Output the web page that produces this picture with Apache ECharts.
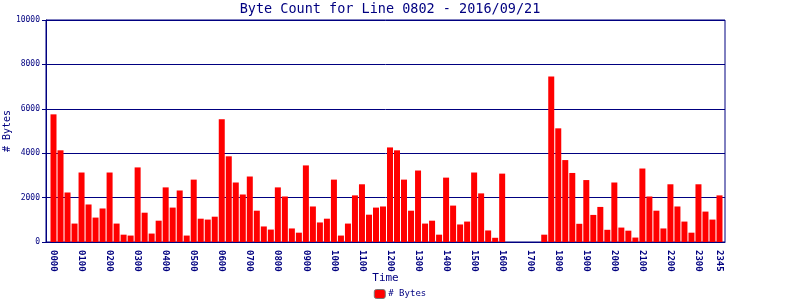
<!DOCTYPE html>
<html>
<head>
<meta charset="utf-8">
<script src="https://cdn.jsdelivr.net/npm/echarts@6/dist/echarts.min.js"></script>
<style>html,body{margin:0;padding:0;background:#fff}#c{width:800px;height:300px}</style>
</head>
<body>
<div id="c"></div>
<script>
const titleText = "Byte Count for Line 0802 - 2016/09/21";
const seriesName = "# Bytes";
const xAxisName = "Time";
const yAxisName = "# Bytes";
const categories = [
"0000","0015","0030","0045","0100","0115","0130","0145","0200","0215","0230","0245",
"0300","0315","0330","0345","0400","0415","0430","0445","0500","0515","0530","0545",
"0600","0615","0630","0645","0700","0715","0730","0745","0800","0815","0830","0845",
"0900","0915","0930","0945","1000","1015","1030","1045","1100","1115","1130","1145",
"1200","1215","1230","1245","1300","1315","1330","1345","1400","1415","1430","1445",
"1500","1515","1530","1545","1600","1615","1630","1645","1700","1715","1730","1745",
"1800","1815","1830","1845","1900","1915","1930","1945","2000","2015","2030","2045",
"2100","2115","2130","2145","2200","2215","2230","2245","2300","2315","2330","2345"
];
const byteCounts = [
5750,4130,2230,830,3130,1690,1100,1510,3130,830,330,290,
3360,1320,380,960,2460,1550,2320,290,2810,1050,1010,1140,
5530,3860,2680,2140,2950,1410,700,560,2460,2050,610,420,
3450,1600,880,1050,2810,290,830,2100,2600,1230,1550,1600,
4260,4130,2810,1410,3220,830,960,330,2900,1640,790,920,
3130,2190,520,190,3080,0,0,0,0,0,330,7460,
5120,3690,3110,820,2790,1220,1580,550,2680,650,510,200,
3310,2050,1410,610,2600,1600,920,420,2600,1370,1010,2100
];
const yTicks = {min: 0, max: 10000, interval: 2000};
const labelEvery = 4;

const navy = '#000080';
const chart = echarts.init(document.getElementById('c'), null, {renderer: 'canvas'});
chart.setOption({
  animation: false,
  backgroundColor: '#ffffff',
  title: {
    text: titleText, left: 385, top: -3, textAlign: 'center',
    textStyle: {color: navy, fontFamily: 'DejaVu Sans Mono', fontSize: 13.5, fontWeight: 'normal'}
  },
  legend: {
    bottom: -4, left: 'center', itemWidth: 11, itemHeight: 9, itemGap: 4,
    data: [seriesName],
    textStyle: {color: navy, fontFamily: 'DejaVu Sans Mono', fontSize: 9, padding: [0,0,0,-2]},
    itemStyle: {borderColor: '#777', borderWidth: 1}
  },
  grid: [
    {left: 46, right: 75, top: 20, bottom: 58, show: true, borderColor: navy, borderWidth: 1,
     backgroundColor: 'transparent', containLabel: false, outerBoundsMode: 'none'},
    {left: 50, right: 77, top: 20, bottom: 58, containLabel: false, outerBoundsMode: 'none'}
  ],
  xAxis: [
    {type: 'category', gridIndex: 0, data: categories,
     axisLine: {onZero: false, lineStyle: {color: navy, width: 1}}, axisTick: {show: false}, axisLabel: {show: false},
     name: xAxisName, nameLocation: 'middle', nameGap: 31, nameMoveOverlap: false,
     nameTextStyle: {color: navy, fontFamily: 'DejaVu Sans Mono', fontSize: 11}},
    {type: 'category', gridIndex: 1, data: categories,
     axisLine: {show: false, onZero: false}, axisTick: {show: false},
     axisLabel: {
       interval: (i) => i % labelEvery === 0 || i === categories.length - 1,
       rotate: -90, margin: 8, color: navy, fontFamily: 'DejaVu Sans Mono', fontSize: 9, fontWeight: 'bold'
     }}
  ],
  yAxis: [
    {type: 'value', gridIndex: 0, min: yTicks.min, max: yTicks.max, interval: yTicks.interval,
     axisLine: {show: true, onZero: false, lineStyle: {color: navy, width: 1}},
     axisTick: {show: true, length: 4, lineStyle: {color: navy}},
     splitLine: {show: true, lineStyle: {color: navy, width: 1}},
     axisLabel: {color: navy, fontFamily: 'DejaVu Sans Mono', fontSize: 8, margin: 6, formatter: (v) => String(v)},
     name: yAxisName, nameLocation: 'middle', nameGap: 34, nameMoveOverlap: false,
     nameTextStyle: {color: navy, fontFamily: 'DejaVu Sans Mono', fontSize: 10}},
    {type: 'value', gridIndex: 1, min: yTicks.min, max: yTicks.max, show: false,
     axisLine: {show: false, onZero: false}, splitLine: {show: false}}
  ],
  series: [{
    name: seriesName, type: 'bar', xAxisIndex: 1, yAxisIndex: 1,
    data: byteCounts, barWidth: 6,
    itemStyle: {color: '#ff0000'}
  }]
});
</script>
</body>
</html>
